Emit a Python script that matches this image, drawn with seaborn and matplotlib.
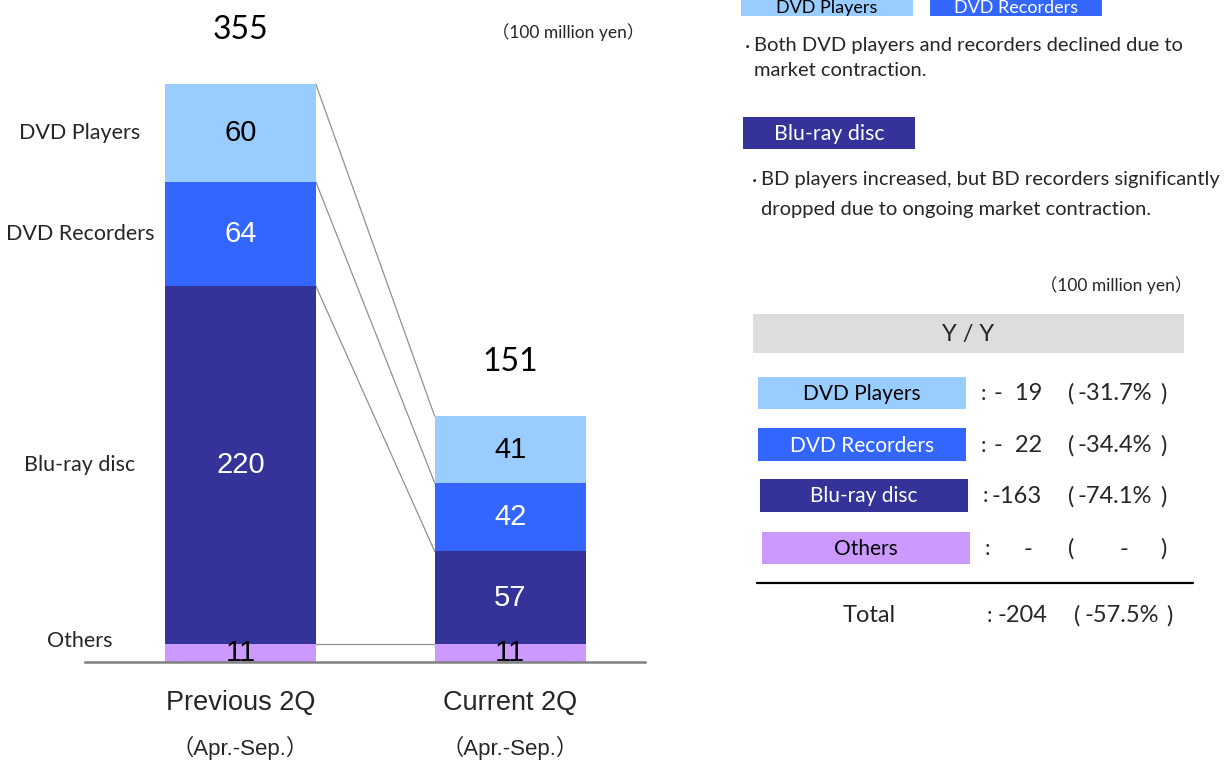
import matplotlib
matplotlib.use("Agg")
import matplotlib.pyplot as plt
from matplotlib.patches import Rectangle
from matplotlib.transforms import blended_transform_factory
import pandas as pd
import seaborn as sns

# ---- data (100 million yen) ----
periods = ["Previous 2Q", "Current 2Q"]
period_sub = ["（Apr.-Sep.）", "（Apr.-Sep.）"]
segments = ["Others", "Blu-ray disc", "DVD Recorders", "DVD Players"]  # bottom -> top
others = [11, 11]
bluray = [220, 57]
recorders = [64, 42]
players = [60, 41]
totals = [355, 151]

yoy_labels = ["DVD Players", "DVD Recorders", "Blu-ray disc", "Others"]
yoy_diff = ["-  19", "-  22", "-163", "-"]
yoy_pct = ["-31.7%", "-34.4%", "-74.1%", "-"]
total_diff = "-204"
total_pct = "-57.5%"

seg_colors = {"DVD Players": "#99CCFF", "DVD Recorders": "#3366FF",
              "Blu-ray disc": "#333399", "Others": "#CC99FF"}
seg_text = {"DVD Players": "black", "DVD Recorders": "white",
            "Blu-ray disc": "white", "Others": "black"}

values = {"Others": others, "Blu-ray disc": bluray,
          "DVD Recorders": recorders, "DVD Players": players}

# long table with cumulative tops for stacking
rows = []
for i, p in enumerate(periods):
    base = 0
    for s in segments:
        v = values[s][i]
        rows.append({"period": p, "segment": s, "value": v,
                     "bottom": base, "top": base + v})
        base += v
df = pd.DataFrame(rows)

sns.set_theme(style="white")
SANS = ["Lato", "Noto Sans CJK JP", "DejaVu Sans"]
ARIAL = ["Liberation Sans", "Noto Sans CJK JP", "DejaVu Sans"]

W, H = 1229, 760
fig = plt.figure(figsize=(W / 100, H / 100), dpi=100)

# main stacked-bar axes: baseline at y=662px, x from 85 to 645px
bar_w = 151 / 270
px_per_unit = 1.628
ax = fig.add_axes([85 / W, (H - 662) / H, 560 / W, 662 / H])

for s in reversed(segments):
    sub = df[df["segment"] == s]
    sns.barplot(data=sub, x="period", y="top", color=seg_colors[s],
                saturation=1, width=bar_w, errorbar=None, ax=ax,
                order=periods, linewidth=0, zorder=2)

ax.set_xlim(-0.576, 1.5)
ax.set_ylim(0, 662 / px_per_unit)
ax.set_xlabel("")
ax.set_ylabel("")
ax.set_xticks([])
ax.set_yticks([])
for sp in ["top", "right", "left"]:
    ax.spines[sp].set_visible(False)
ax.spines["bottom"].set_color("#808080")
ax.spines["bottom"].set_linewidth(1.8)
ax.patch.set_alpha(0)

# connector lines between the two bars
x0, x1 = 0 + bar_w / 2, 1 - bar_w / 2
for s in segments:
    t0 = df[(df.period == periods[0]) & (df.segment == s)]["top"].iloc[0]
    t1 = df[(df.period == periods[1]) & (df.segment == s)]["top"].iloc[0]
    ax.plot([x0, x1], [t0, t1], color="#909090", lw=0.9, zorder=1)

# segment value labels
for _, r in df.iterrows():
    i = periods.index(r["period"])
    ax.text(i, (r["bottom"] + r["top"]) / 2, f"{r['value']}",
            ha="center", va="center", fontsize=21, family=ARIAL,
            color=seg_text[r["segment"]], zorder=3)

# totals
for i, t in enumerate(totals):
    ax.text(i, t + 33, f"{t}", ha="center", va="center",
            fontsize=23, family=SANS, color="black")

# category labels beneath the bars
for i, p in enumerate(periods):
    ax.annotate(p, xy=(i, 0), xytext=(0, -29.5), textcoords="offset points",
                ha="center", va="center", fontsize=19.5, family=ARIAL,
                annotation_clip=False)
    ax.annotate(period_sub[i], xy=(i, 0), xytext=(0, -62),
                textcoords="offset points", ha="center", va="center",
                fontsize=16, family=ARIAL, annotation_clip=False)

# segment names on the left
blend = blended_transform_factory(fig.transFigure, ax.transData)
prev = df[df.period == periods[0]]
for _, r in prev.iterrows():
    y = (r["bottom"] + r["top"]) / 2
    if r["segment"] == "Others":
        y = r["top"] + 2
    ax.text(80 / W, y, r["segment"], transform=blend, ha="center",
            va="center", fontsize=15.5, family=SANS)

# ---- annotation layer in pixel coordinates ----
pan = fig.add_axes([0, 0, 1, 1], zorder=5)
pan.set_xlim(0, W)
pan.set_ylim(H, 0)
pan.axis("off")

# unit note above the chart
pan.text(568, 32, "（100 million yen）", fontsize=12.5, family=SANS,
         ha="center", va="center")


def tag(x0, x1, y0, y1, text, face, fc, size=15, cy=None, va="center"):
    pan.add_patch(Rectangle((x0, y0), x1 - x0, y1 - y0, facecolor=face,
                            edgecolor="none"))
    pan.text((x0 + x1) / 2, (y0 + y1) / 2 + 1 if cy is None else cy, text,
             ha="center", va=va, fontsize=size, family=SANS, color=fc)


tag(741, 913, -22, 16, "DVD Players", seg_colors["DVD Players"], "black",
    13, cy=13, va="baseline")
tag(930, 1102, -22, 16, "DVD Recorders", seg_colors["DVD Recorders"],
    "white", 13, cy=13, va="baseline")
pan.text(745, 46, "·", fontsize=14.5, family=SANS, va="center", ha="left")
pan.text(754, 46, "Both DVD players and recorders declined due to",
         fontsize=14.5, family=SANS, va="center", ha="left")
pan.text(754, 71, "market contraction.", fontsize=14.5, family=SANS,
         va="center", ha="left")

tag(743, 915, 117, 149, "Blu-ray disc", seg_colors["Blu-ray disc"], "white",
    15.4)
pan.text(752, 180, "·", fontsize=14.5, family=SANS, va="center", ha="left")
pan.text(761, 180, "BD players increased, but BD recorders significantly",
         fontsize=14.5, family=SANS, va="center", ha="left")
pan.text(761, 209, "dropped due to ongoing market contraction.",
         fontsize=14.5, family=SANS, va="center", ha="left")

pan.text(1116, 285, "（100 million yen）", fontsize=12.5, family=SANS,
         ha="center", va="center")

pan.add_patch(Rectangle((753, 314), 431, 39, facecolor="#DDDDDD",
                        edgecolor="none"))
pan.text(968, 334, "Y / Y", ha="center", va="center", fontsize=17,
         family=SANS)

row_y = [(377, 409), (428, 461), (479, 512), (532, 564)]
row_x = [(758, 966), (758, 966), (760, 968), (762, 970)]
for lab, (ya, yb), (xa, xb), d, pc in zip(yoy_labels, row_y, row_x,
                                            yoy_diff, yoy_pct):
    tag(xa, xb, ya, yb, lab, seg_colors[lab], seg_text[lab], 15)
    ym = (ya + yb) / 2 + 1
    pan.text(xb + 17, ym, ":", fontsize=16, family=SANS, ha="center",
             va="center")
    if d == "-":
        pan.text(1028, ym, "-", fontsize=17, family=SANS, ha="center",
                 va="center")
        pan.text(1124, ym, "-", fontsize=17, family=SANS, ha="center",
                 va="center")
    else:
        pan.text(1042, ym, d, fontsize=17, family=SANS, ha="right",
                 va="center")
        pan.text(1115, ym, pc, fontsize=17, family=SANS, ha="center",
                 va="center")
    pan.text(1071, ym, "(", fontsize=17, family=SANS, ha="center",
             va="center")
    pan.text(1163, ym, ")", fontsize=17, family=SANS, ha="center",
             va="center")

pan.plot([757, 1193], [583, 583], color="black", lw=1.6)
pan.text(869, 616, "Total", fontsize=17, family=SANS, ha="center",
         va="center")
pan.text(989, 616, ":", fontsize=16, family=SANS, ha="center", va="center")
pan.text(1047, 616, total_diff, fontsize=17, family=SANS, ha="right",
         va="center")
pan.text(1077, 616, "(", fontsize=17, family=SANS, ha="center", va="center")
pan.text(1122, 616, total_pct, fontsize=17, family=SANS, ha="center",
         va="center")
pan.text(1169, 616, ")", fontsize=17, family=SANS, ha="center", va="center")

fig.savefig("out.png", dpi=100)
